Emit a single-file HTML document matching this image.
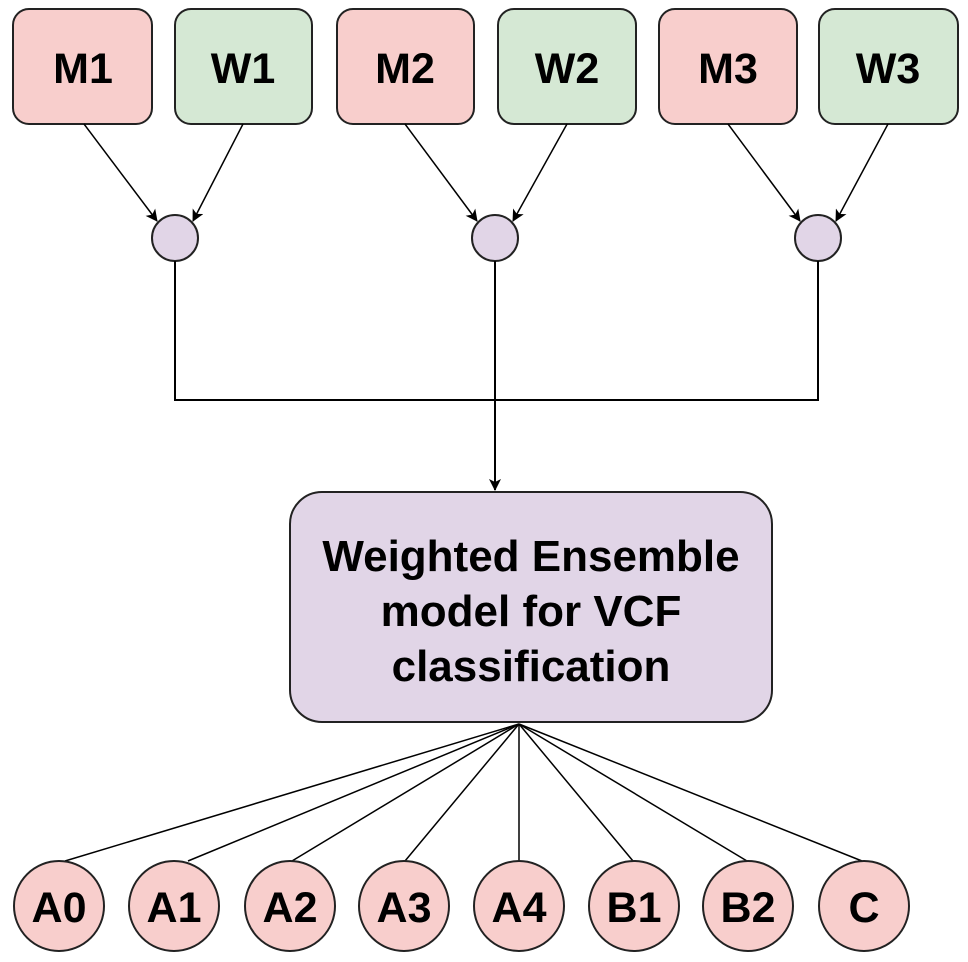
<!DOCTYPE html>
<html><head><meta charset="utf-8"><style>
html,body{margin:0;padding:0;background:#fff;}
svg{display:block;}
text{font-family:"Liberation Sans",Arial,sans-serif;font-weight:bold;fill:#000;}
</style></head><body>
<svg width="968" height="962" viewBox="0 0 968 962" xmlns="http://www.w3.org/2000/svg">
<defs>
<marker id="ar" markerWidth="12" markerHeight="12" refX="11" refY="6" orient="auto" markerUnits="userSpaceOnUse" viewBox="0 0 12 12">
<path d="M0,0 L12,6 L0,12 L3,6 z" fill="#000"/>
</marker>
</defs>
<g stroke="#222" stroke-width="2">
<rect x="13" y="9" width="139" height="115" rx="16" fill="#f8cecc"/>
<rect x="175" y="9" width="137" height="115" rx="16" fill="#d5e8d4"/>
<rect x="337" y="9" width="137" height="115" rx="16" fill="#f8cecc"/>
<rect x="498" y="9" width="138" height="115" rx="16" fill="#d5e8d4"/>
<rect x="659" y="9" width="138" height="115" rx="16" fill="#f8cecc"/>
<rect x="819" y="9" width="139" height="115" rx="16" fill="#d5e8d4"/>
</g>
<g font-size="43" text-anchor="middle">
<text x="83" y="83">M1</text><text x="243" y="83">W1</text>
<text x="405" y="83">M2</text><text x="567" y="83">W2</text>
<text x="728" y="83">M3</text><text x="888" y="83">W3</text>
</g>
<g stroke="#000" stroke-width="1.5" fill="none" marker-end="url(#ar)">
<line x1="84" y1="124" x2="157" y2="221"/>
<line x1="243" y1="124" x2="193" y2="221"/>
<line x1="405" y1="124" x2="477" y2="221"/>
<line x1="567" y1="124" x2="513" y2="221"/>
<line x1="728" y1="124" x2="800" y2="221"/>
<line x1="888" y1="124" x2="836" y2="221"/>
</g>
<g stroke="#222" stroke-width="2" fill="#e1d5e7">
<circle cx="175" cy="238" r="23"/>
<circle cx="495" cy="238" r="23"/>
<circle cx="818" cy="238" r="23"/>
</g>
<g stroke="#000" stroke-width="2" fill="none">
<polyline points="175,261 175,400 818,400 818,261"/>
<line x1="495" y1="261" x2="495" y2="490" marker-end="url(#ar)"/>
</g>
<rect x="290" y="492" width="482" height="230" rx="32" fill="#e1d5e7" stroke="#222" stroke-width="2"/>
<g font-size="44" text-anchor="middle">
<text x="531" y="571">Weighted Ensemble</text>
<text x="531" y="626">model for VCF</text>
<text x="531" y="681">classification</text>
</g>
<g stroke="#000" stroke-width="1.5">
<line x1="519" y1="724" x2="65" y2="861"/>
<line x1="519" y1="724" x2="188" y2="861"/>
<line x1="519" y1="724" x2="292" y2="861"/>
<line x1="519" y1="724" x2="405" y2="861"/>
<line x1="519" y1="724" x2="519" y2="861"/>
<line x1="519" y1="724" x2="633" y2="861"/>
<line x1="519" y1="724" x2="747" y2="861"/>
<line x1="519" y1="724" x2="862" y2="861"/>
</g>
<g stroke="#222" stroke-width="2" fill="#f8cecc">
<circle cx="59" cy="906" r="45"/><circle cx="174" cy="906" r="45"/>
<circle cx="290" cy="906" r="45"/><circle cx="404" cy="906" r="45"/>
<circle cx="519" cy="906" r="45"/><circle cx="634" cy="906" r="45"/>
<circle cx="748" cy="906" r="45"/><circle cx="864" cy="906" r="45"/>
</g>
<g font-size="43" text-anchor="middle">
<text x="59" y="922">A0</text><text x="174" y="922">A1</text>
<text x="290" y="922">A2</text><text x="404" y="922">A3</text>
<text x="519" y="922">A4</text><text x="634" y="922">B1</text>
<text x="748" y="922">B2</text><text x="864" y="922">C</text>
</g>
</svg>
</body></html>
